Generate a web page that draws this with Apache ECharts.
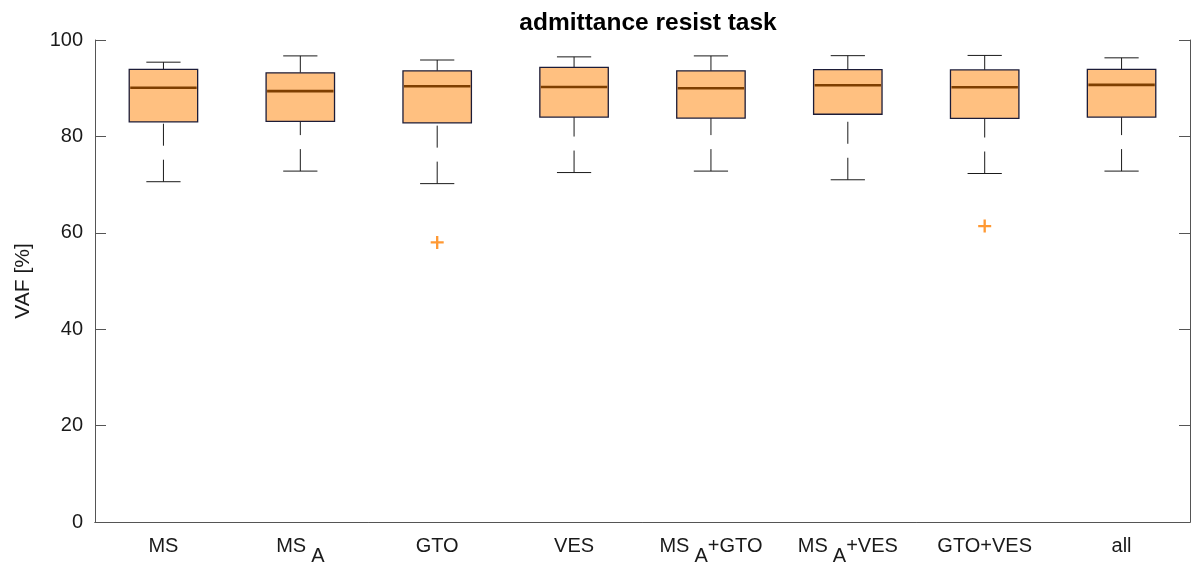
<!DOCTYPE html>
<html>
<head>
<meta charset="utf-8">
<script src="https://cdn.jsdelivr.net/npm/echarts@6/dist/echarts.min.js"></script>
<style>html,body{margin:0;padding:0;background:#fff}#c{width:1200px;height:568px}</style>
</head>
<body>
<div id="c"></div>
<script>
const categories = ['MS', 'MS_A', 'GTO', 'VES', 'MS_A+GTO', 'MS_A+VES', 'GTO+VES', 'all'];
const lowerWhisker = [70.6, 72.8, 70.2, 72.5, 72.8, 71.0, 72.3, 72.8];
const q1Values     = [83.0, 83.1, 82.8, 84.0, 83.8, 84.6, 83.75, 84.0];
const medianValues = [90.1, 89.4, 90.4, 90.25, 90.0, 90.6, 90.2, 90.7];
const q3Values     = [93.9, 93.2, 93.6, 94.3, 93.6, 93.85, 93.8, 93.9];
const upperWhisker = [95.4, 96.7, 95.85, 96.5, 96.7, 96.75, 96.8, 96.3];
const outliers = [[2, 58.0], [6, 61.4]];
const yTicks = [0, 20, 40, 60, 80, 100];

const FONT = '"Liberation Sans", Arial, Helvetica, sans-serif';
const boxData = categories.map((c, i) => [i, lowerWhisker[i], q1Values[i], medianValues[i], q3Values[i], upperWhisker[i]]);

function fmtLabel(v) {
  const parts = v.split('_A');
  if (parts.length === 1) return '{n|' + v + '}';
  return '{n|' + parts[0] + '}{s|A}' + (parts[1] ? '{n|' + parts[1] + '}' : '');
}

function renderBox(params, api) {
  const idx = api.value(0);
  const lo = api.coord([idx, api.value(1)]);
  const q1 = api.coord([idx, api.value(2)]);
  const md = api.coord([idx, api.value(3)]);
  const q3 = api.coord([idx, api.value(4)]);
  const hi = api.coord([idx, api.value(5)]);
  const band = api.size([1, 0])[0];
  const bw = band * 0.5, cw = band * 0.25;
  const x = lo[0];
  const wStyle = {stroke: '#1a1a1a', lineWidth: 1, lineDash: [22, 14]};
  const cStyle = {stroke: '#1a1a1a', lineWidth: 1};
  return {
    type: 'group',
    children: [
      {type: 'line', shape: {x1: x, y1: lo[1], x2: x, y2: q1[1]}, style: wStyle},
      {type: 'line', shape: {x1: x, y1: hi[1], x2: x, y2: q3[1]}, style: wStyle},
      {type: 'line', shape: {x1: x - cw / 2, y1: lo[1], x2: x + cw / 2, y2: lo[1]}, style: cStyle},
      {type: 'line', shape: {x1: x - cw / 2, y1: hi[1], x2: x + cw / 2, y2: hi[1]}, style: cStyle},
      {type: 'rect', shape: {x: x - bw / 2, y: q3[1], width: bw, height: q1[1] - q3[1]},
        style: {fill: '#ffc080', stroke: '#1c1c38', lineWidth: 1.3}},
      {type: 'line', shape: {x1: x - bw / 2 + 1, y1: md[1], x2: x + bw / 2 - 1, y2: md[1]},
        style: {stroke: '#7f3f00', lineWidth: 2.6}}
    ]
  };
}

const chart = echarts.init(document.getElementById('c'));
const axisLineStyle = {color: '#555', width: 1};
const TXT = '#1a1a1a';
chart.setOption({
  animation: false,
  backgroundColor: '#fff',
  title: {
    text: 'admittance resist task', left: 643, top: 6, textAlign: 'center',
    textStyle: {fontFamily: FONT, fontWeight: 'bold', fontSize: 24.5, color: '#000'}
  },
  grid: {left: 95, right: 10, top: 40, bottom: 46},
  xAxis: [{
    type: 'category', data: categories, boundaryGap: true, position: 'bottom',
    axisLine: {lineStyle: axisLineStyle},
    axisTick: {inside: true, length: 11, alignWithLabel: true, lineStyle: axisLineStyle},
    axisLabel: {
      margin: 14, formatter: fmtLabel, interval: 0,
      rich: {
        n: {fontFamily: FONT, fontSize: 20, color: TXT, lineHeight: 22, verticalAlign: 'top'},
        s: {fontFamily: FONT, fontSize: 20, color: TXT, lineHeight: 22, verticalAlign: 'top', padding: [10, 0, 0, 5]}
      }
    },
    splitLine: {show: false}
  }, {
    type: 'category', data: categories, boundaryGap: true, position: 'top',
    axisLine: {lineStyle: axisLineStyle},
    axisTick: {inside: true, length: 11, alignWithLabel: true, lineStyle: axisLineStyle},
    axisLabel: {show: false}, splitLine: {show: false}
  }],
  yAxis: [{
    type: 'value', min: 0, max: 100, interval: 20, position: 'left',
    name: 'VAF [%]', nameLocation: 'middle', nameGap: 61,
    nameTextStyle: {fontFamily: FONT, fontSize: 21, color: TXT},
    axisLine: {show: true, lineStyle: axisLineStyle},
    axisTick: {show: true, inside: true, length: 11, lineStyle: axisLineStyle},
    axisLabel: {margin: 12, fontFamily: FONT, fontSize: 20, color: TXT,
      formatter: v => yTicks.includes(v) ? String(v) : ''},
    splitLine: {show: false}
  }, {
    type: 'value', min: 0, max: 100, interval: 20, position: 'right',
    axisLine: {show: true, lineStyle: axisLineStyle},
    axisTick: {show: true, inside: true, length: 11, lineStyle: axisLineStyle},
    axisLabel: {show: false}, splitLine: {show: false}
  }],
  series: [{
    type: 'custom', renderItem: renderBox, data: boxData,
    encode: {x: 0, y: [1, 2, 3, 4, 5]}, clip: false
  }, {
    type: 'scatter', data: outliers,
    symbol: 'path://M4.1,0H5.9V4.1H10V5.9H5.9V10H4.1V5.9H0V4.1H4.1Z',
    symbolSize: 13, itemStyle: {color: '#ff7f00'}
  }]
});
</script>
</body>
</html>
